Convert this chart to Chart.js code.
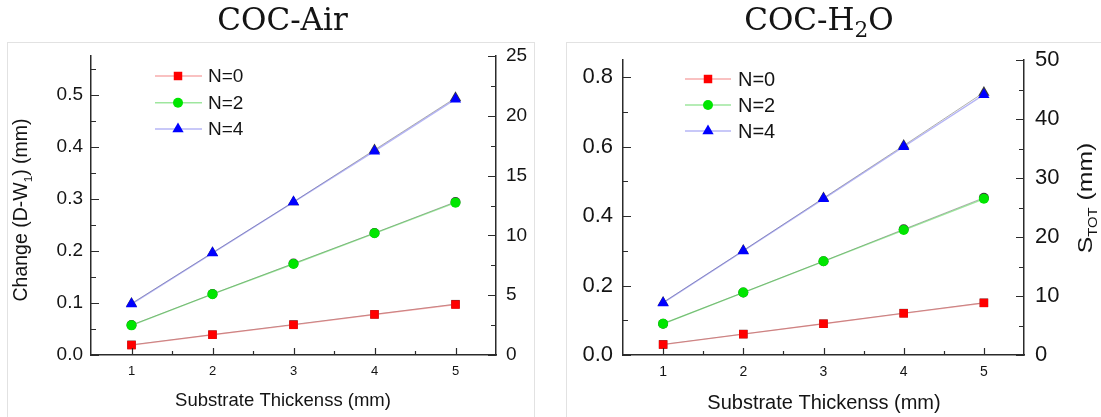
<!DOCTYPE html>
<html><head><meta charset="utf-8">
<script src="https://cdn.jsdelivr.net/npm/chart.js@4.4.1/dist/chart.umd.min.js"></script>
<style>
html,body{margin:0;padding:0;background:#fff;overflow:hidden;}
#wrap{position:relative;width:1101px;height:417px;}
#c1{position:absolute;left:0;top:0;}
#c2{position:absolute;left:550px;top:0;}
</style></head><body>
<div id="wrap"><canvas id="c1" width="550" height="417"></canvas><canvas id="c2" width="551" height="417"></canvas></div>
<script>
// ---- data ----
const xValues = [1, 2, 3, 4, 5];
const seriesLabels = ['N=0', 'N=2', 'N=4'];

// COC-Air: Change (D-W1) (mm), left axis
const airChangeN0 = [0.019, 0.039, 0.058, 0.078, 0.097];
const airChangeN2 = [0.057, 0.117, 0.175, 0.234, 0.293];
const airChangeN4 = [0.098, 0.196, 0.294, 0.392, 0.492];
// COC-Air: S_TOT (mm), right axis
const airStotN0 = [0.85, 1.7, 2.55, 3.4, 4.25];
const airStotN2 = [2.5, 5.1, 7.65, 10.2, 12.8];
const airStotN4 = [4.3, 8.55, 12.8, 17.15, 21.5];

// COC-H2O: Change (mm), left axis
const h2oChangeN0 = [0.03, 0.06, 0.09, 0.12, 0.15];
const h2oChangeN2 = [0.09, 0.18, 0.27, 0.36, 0.45];
const h2oChangeN4 = [0.15, 0.30, 0.45, 0.60, 0.75];
// COC-H2O: S_TOT (mm), right axis
const h2oStotN0 = [1.8, 3.55, 5.3, 7.1, 8.85];
const h2oStotN2 = [5.3, 10.6, 15.9, 21.3, 26.65];
const h2oStotN4 = [8.9, 17.7, 26.6, 35.5, 44.5];

// tick labels
const xTicks = [1, 2, 3, 4, 5];
const xMinorTicks = [1.5, 2.5, 3.5, 4.5];
const airLeftTicks = [0, 0.1, 0.2, 0.3, 0.4, 0.5];
const airLeftMinor = [0.05, 0.15, 0.25, 0.35, 0.45, 0.55];
const airRightTicks = [0, 5, 10, 15, 20, 25];
const airRightMinor = [2.5, 7.5, 12.5, 17.5, 22.5];
const h2oLeftTicks = [0, 0.2, 0.4, 0.6, 0.8];
const h2oLeftMinor = [0.1, 0.3, 0.5, 0.7];
const h2oRightTicks = [0, 10, 20, 30, 40, 50];
const h2oRightMinor = [5, 15, 25, 35, 45];

// ---- styles ----
const SANS = '"Liberation Sans", Arial, Helvetica, sans-serif';
const SERIF = '"DejaVu Serif", "Liberation Serif", serif';
const AX = '#2b2b2b';
const TXT = '#141414';
const lineColors = ['rgba(235,60,60,0.42)', 'rgba(40,200,40,0.45)', 'rgba(60,60,230,0.38)'];
const markerColors = ['#ff0000', '#00e600', '#0000ff'];
const pointStyles = ['rect', 'circle', 'triangle'];
const pointRadii = [6, 5, 6.5];

function drawRich(ctx, parts, o) {
  ctx.save();
  ctx.translate(o.x, o.y);
  if (o.rotate) ctx.rotate(o.rotate);
  if (o.sx) ctx.scale(o.sx, 1);
  const subSize = o.size * (o.subScale || 0.65);
  const widths = parts.map(p => { ctx.font = (p.sub ? subSize : o.size) + 'px ' + o.family; return ctx.measureText(p.t).width; });
  const w = widths.reduce((a, b) => a + b, 0);
  let cx = -w / 2;
  ctx.fillStyle = o.color || TXT;
  ctx.textBaseline = 'alphabetic';
  ctx.textAlign = 'left';
  parts.forEach((p, i) => {
    ctx.font = (p.sub ? subSize : o.size) + 'px ' + o.family;
    ctx.fillText(p.t, cx, p.sub ? o.size * (o.subShift || 0.22) : 0);
    cx += widths[i];
  });
  ctx.restore();
}

function makeChart(canvas, P) {
  const datasets = [];
  P.change.forEach((arr, i) => {
    datasets.push({
      label: seriesLabels[i], data: xValues.map((x, j) => ({ x: x, y: arr[j] })), yAxisID: 'y',
      borderColor: lineColors[i], borderWidth: 1.4, pointStyle: pointStyles[i], pointRadius: pointRadii[i],
      pointBackgroundColor: markerColors[i], pointBorderWidth: 0, order: 0, tension: 0
    });
  });
  P.stot.forEach((arr, i) => {
    datasets.push({
      label: seriesLabels[i] + ' S', data: xValues.map((x, j) => ({ x: x, y: arr[j] })), yAxisID: 'y2',
      borderColor: 'rgba(80,80,80,0.45)', borderWidth: 1, pointStyle: pointStyles[i], pointRadius: pointRadii[i],
      pointBackgroundColor: '#3a3a3a', pointBorderWidth: 0, order: 1, tension: 0
    });
  });

  const decor = {
    id: 'decor',
    beforeDraw(chart) {
      const ctx = chart.ctx;
      ctx.save();
      ctx.fillStyle = '#fff';
      ctx.fillRect(0, 0, chart.width, chart.height);
      ctx.strokeStyle = '#e2e2e2';
      ctx.lineWidth = 1;
      ctx.strokeRect(P.frame[0], P.frame[1], P.frame[2], P.frame[3]);
      ctx.restore();
    },
    afterDraw(chart) {
      const ctx = chart.ctx, a = chart.chartArea;
      const sx = chart.scales.x, sy = chart.scales.y, sy2 = chart.scales.y2;
      ctx.save();
      ctx.strokeStyle = AX;
      ctx.lineWidth = 1.2;
      ctx.beginPath();
      P.leftTicks.forEach(v => { const y = Math.round(sy.getPixelForValue(v)) + 0.5; ctx.moveTo(a.left, y); ctx.lineTo(a.left + 8, y); });
      P.leftMinor.forEach(v => { const y = Math.round(sy.getPixelForValue(v)) + 0.5; ctx.moveTo(a.left, y); ctx.lineTo(a.left + 5, y); });
      P.rightTicks.forEach(v => { const y = Math.round(sy2.getPixelForValue(v)) + 0.5; ctx.moveTo(a.right, y); ctx.lineTo(a.right - 8, y); });
      P.rightMinor.forEach(v => { const y = Math.round(sy2.getPixelForValue(v)) + 0.5; ctx.moveTo(a.right, y); ctx.lineTo(a.right - 5, y); });
      xTicks.forEach(v => { const x = Math.round(sx.getPixelForValue(v)) + 0.5; ctx.moveTo(x, a.bottom); ctx.lineTo(x, a.bottom - 7); });
      xMinorTicks.forEach(v => { const x = Math.round(sx.getPixelForValue(v)) + 0.5; ctx.moveTo(x, a.bottom); ctx.lineTo(x, a.bottom - 4); });
      ctx.stroke();
      ctx.restore();

      // title
      drawRich(ctx, P.title, { x: P.titleX, y: 30, size: 31, family: SERIF, subScale: 0.7, subShift: 0.22 });
      // x axis title
      drawRich(ctx, [{ t: 'Substrate Thickenss (mm)' }], { x: P.xTitleX, y: P.xTitleY, size: P.xTitleSize, family: SANS });
      // y axis titles
      if (P.yTitle) drawRich(ctx, P.yTitle.parts, { x: P.yTitle.x, y: P.yTitle.y, size: P.yTitle.size, family: SANS, rotate: -Math.PI / 2, sx: P.yTitle.sx, subScale: 0.6, subShift: 0.25 });

      // legend
      const L = P.legend;
      for (let i = 0; i < 3; i++) {
        const ds = chart.data.datasets[i];
        const y = L.rows[i];
        ctx.save();
        ctx.strokeStyle = ds.borderColor;
        ctx.lineWidth = 1.5;
        ctx.beginPath(); ctx.moveTo(L.x1, y); ctx.lineTo(L.x2, y); ctx.stroke();
        ctx.fillStyle = ds.pointBackgroundColor;
        ctx.strokeStyle = ds.pointBackgroundColor;
        Chart.helpers.drawPoint(ctx, { pointStyle: ds.pointStyle, radius: ds.pointRadius, rotation: 0, borderWidth: 0 }, L.mx, y);
        ctx.fillStyle = TXT;
        ctx.font = L.font + 'px ' + SANS;
        ctx.textBaseline = 'middle';
        ctx.textAlign = 'left';
        ctx.fillText(ds.label, L.tx, y + 1);
        ctx.restore();
      }
    }
  };

  const tickOpts = (size, pad, cb) => ({ padding: pad, color: TXT, font: { family: SANS, size: size }, autoSkip: false, maxRotation: 0, callback: cb });

  return new Chart(canvas, {
    type: 'line',
    data: { datasets: datasets },
    options: {
      responsive: false, animation: false, devicePixelRatio: 1, events: [],
      layout: { padding: { top: P.top, left: 0, right: 0, bottom: 0 } },
      plugins: { legend: { display: false }, tooltip: { enabled: false }, title: { display: false } },
      scales: {
        x: {
          type: 'linear', position: 'bottom', min: 0.5, max: 5.5,
          afterBuildTicks: s => { s.ticks = xTicks.map(v => ({ value: v })); },
          afterFit: s => { s.height = P.xH; },
          grid: { display: false, drawTicks: false },
          border: { display: true, color: AX, width: 1.5 },
          ticks: tickOpts(P.xFont, P.xPad, v => String(v))
        },
        y: {
          type: 'linear', position: 'left', min: 0, max: P.yMax,
          afterBuildTicks: s => { s.ticks = P.leftTicks.map(v => ({ value: v })); },
          afterFit: s => { s.width = P.yW; },
          grid: { display: false, drawTicks: false },
          border: { display: true, color: AX, width: 1.5 },
          ticks: tickOpts(P.yFont, P.yPad, v => Number(v).toFixed(1))
        },
        y2: {
          type: 'linear', position: 'right', min: 0, max: P.y2Max,
          afterBuildTicks: s => { s.ticks = P.rightTicks.map(v => ({ value: v })); },
          afterFit: s => { s.width = P.y2W; },
          grid: { display: false, drawTicks: false },
          border: { display: true, color: AX, width: 1.5 },
          ticks: tickOpts(P.yFont, P.y2Pad, v => String(Math.round(v)))
        }
      }
    },
    plugins: [decor]
  });
}

makeChart(document.getElementById('c1'), {
  change: [airChangeN0, airChangeN2, airChangeN4],
  stot: [airStotN0, airStotN2, airStotN4],
  leftTicks: airLeftTicks, leftMinor: airLeftMinor, rightTicks: airRightTicks, rightMinor: airRightMinor,
  yMax: 0.575, y2Max: 25,
  top: 56, yW: 91, y2W: 54, xH: 62,
  xFont: 13, xPad: 9, yFont: 19, yPad: 8, y2Pad: 10,
  frame: [7.5, 42.5, 527, 400],
  title: [{ t: 'COC-Air' }], titleX: 282.5,
  xTitleX: 283, xTitleY: 406, xTitleSize: 18.5,
  yTitle: { parts: [{ t: 'Change (D-W' }, { t: '1', sub: true }, { t: ') (mm)' }], x: 27, y: 210, size: 19.5 },
  legend: { x1: 155, x2: 202, mx: 178, tx: 208, rows: [76, 102.7, 129], font: 19 }
});

makeChart(document.getElementById('c2'), {
  change: [h2oChangeN0, h2oChangeN2, h2oChangeN4],
  stot: [h2oStotN0, h2oStotN2, h2oStotN4],
  leftTicks: h2oLeftTicks, leftMinor: h2oLeftMinor, rightTicks: h2oRightTicks, rightMinor: h2oRightMinor,
  yMax: 0.85, y2Max: 50,
  top: 60, yW: 73, y2W: 77, xH: 62,
  xFont: 14, xPad: 9, yFont: 22, yPad: 10, y2Pad: 11,
  frame: [16.5, 42.5, 600, 400],
  title: [{ t: 'COC-H' }, { t: '2', sub: true }, { t: 'O' }], titleX: 269,
  xTitleX: 274, xTitleY: 409, xTitleSize: 20,
  yTitle: { parts: [{ t: 'S' }, { t: 'TOT', sub: true }, { t: ' (mm)' }], x: 542, y: 198, size: 21, sx: 1.18 },
  legend: { x1: 135, x2: 181, mx: 158, tx: 188, rows: [79, 105, 131], font: 20 }
});
</script>
</body></html>
